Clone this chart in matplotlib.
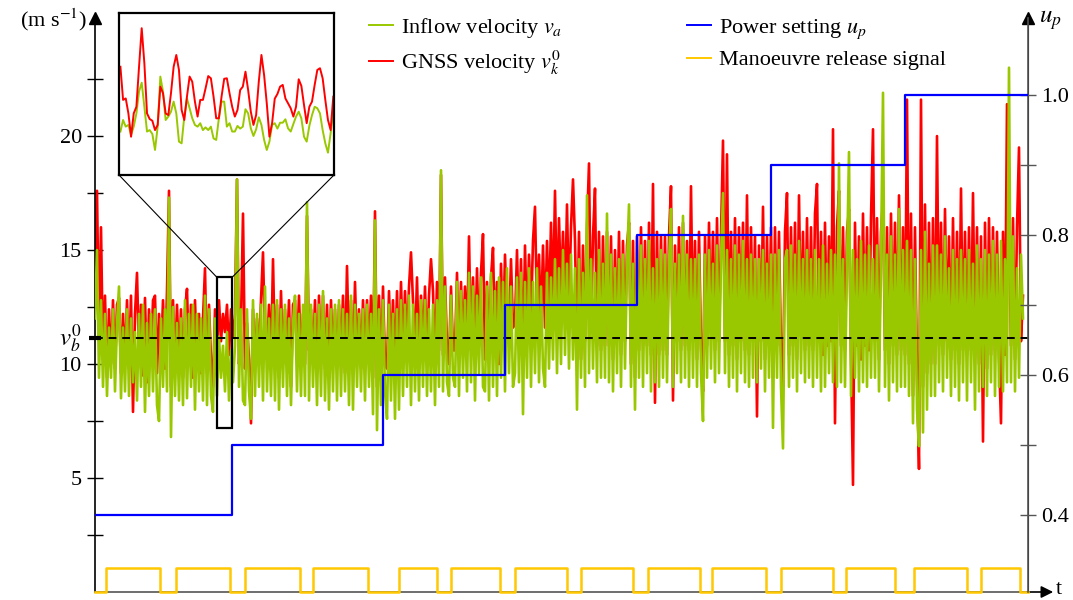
import numpy as np
import matplotlib
matplotlib.use('Agg')
import matplotlib.pyplot as plt
from matplotlib.patches import Rectangle, ConnectionPatch
from matplotlib.lines import Line2D
import matplotlib.transforms as mtransforms

# ---------------- data ----------------
# time samples (s), every 2 s
t = np.arange(0, 929, 2)

inflow_velocity = [
    12.0, 15.0, 9.4, 12.8, 9.0, 12.2, 8.6, 11.6, 9.4, 12.4, 8.8, 11.8, 13.4, 8.5, 11.6,
    8.8, 12.4, 8.6, 12.0, 9.2, 11.4, 8.4, 12.2, 9.0, 12.6, 7.9, 11.8, 8.6, 12.2, 8.8,
    12.4, 8.2, 7.5, 12.0, 9.0, 12.4, 8.8, 17.3, 6.8, 12.5, 8.6, 11.8, 8.4, 12.0, 8.2,
    12.8, 8.5, 12.2, 9.0, 12.6, 8.0, 12.2, 8.8, 12.0, 8.4, 13.0, 8.2, 12.4, 8.6, 7.9,
    12.0, 8.6, 11.2, 9.4, 10.8, 8.8, 11.4, 8.4, 10.6, 9.2, 10.8, 18.1, 9.0, 12.4, 8.4,
    8.2, 12.4, 8.8, 7.6, 12.8, 8.6, 12.2, 9.0, 12.6, 8.4, 13.4, 8.8, 12.0, 8.6, 12.6,
    8.4, 12.8, 8.0, 12.4, 9.0, 12.6, 8.6, 12.0, 8.2, 11.8, 13.0, 8.8, 12.2, 8.6, 12.6,
    8.6, 17.1, 8.4, 12.6, 9.0, 12.2, 8.2, 12.6, 8.6, 13.2, 8.4, 12.0, 8.0, 12.4, 8.8,
    12.6, 8.4, 12.8, 8.6, 12.4, 8.8, 12.2, 8.2, 13.0, 8.0, 12.6, 9.0, 12.2, 8.8, 12.4,
    8.4, 12.6, 9.0, 12.2, 7.8, 16.3, 7.1, 12.4, 8.2, 12.8, 8.8, 7.6, 12.6, 8.4, 12.2,
    7.6, 12.4, 8.0, 12.8, 8.6, 12.6, 9.0, 13.0, 8.2, 12.6, 8.8, 12.2, 8.4, 12.8, 9.0,
    12.8, 8.6, 12.4, 8.8, 12.6, 8.2, 12.8, 9.0, 18.5, 8.8, 13.4, 9.2, 8.6, 13.0, 9.4,
    9.0, 13.6, 8.6, 13.2, 9.4, 12.8, 8.8, 14.0, 9.2, 13.4, 8.4, 13.0, 9.6, 13.8, 9.0,
    8.8, 13.4, 8.4, 14.0, 9.0, 13.2, 8.6, 13.8, 9.4, 13.6, 8.8, 14.2, 9.6, 13.4, 9.0,
    9.6, 13.8, 9.2, 14.0, 7.8, 13.6, 9.4, 14.2, 9.0, 13.6, 9.6, 14.2, 9.2, 13.4, 9.8,
    9.0, 14.0, 9.8, 13.8, 10.2, 14.6, 9.6, 14.2, 10.0, 15.0, 10.4, 14.4, 9.8, 14.8, 10.2,
    14.2, 8.0, 14.6, 9.4, 14.0, 9.0, 17.4, 9.6, 14.6, 9.8, 14.0, 9.2, 15.0, 9.4, 14.4,
    9.4, 16.6, 9.2, 14.8, 8.8, 14.2, 9.6, 14.6, 9.0, 14.8, 9.8, 14.4, 17.0, 9.0, 14.4,
    8.0, 14.8, 9.4, 15.2, 9.0, 14.6, 9.6, 15.4, 8.8, 14.2, 9.2, 14.6, 9.0, 15.0, 9.4,
    14.8, 9.2, 14.4, 16.8, 9.0, 14.4, 9.6, 14.8, 9.2, 16.5, 9.4, 14.8, 9.0, 14.6, 9.4,
    14.6, 9.0, 14.8, 9.6, 7.5, 14.8, 9.4, 15.0, 9.8, 14.4, 9.2, 15.2, 9.6, 14.6, 17.5,
    9.6, 15.0, 9.0, 14.6, 9.4, 15.2, 8.8, 14.8, 9.6, 15.4, 9.2, 14.6, 9.0, 14.8, 9.4,
    14.6, 9.2, 14.6, 9.8, 15.0, 8.8, 14.4, 9.4, 14.8, 7.2, 14.8, 9.4, 15.0, 9.0, 6.3,
    14.6, 15.0, 9.0, 15.2, 9.4, 14.8, 8.8, 15.4, 9.6, 14.6, 9.2, 15.0, 9.4, 14.6, 9.0,
    15.0, 9.4, 14.6, 8.8, 15.2, 9.0, 14.4, 9.6, 15.0, 9.2, 14.8, 9.0, 18.8, 9.2, 14.6,
    9.0, 14.4, 19.3, 8.6, 15.0, 9.4, 14.6, 8.8, 15.4, 9.2, 14.8, 9.0, 15.2, 9.4, 14.6,
    9.4, 15.2, 8.8, 14.6, 21.9, 9.0, 14.8, 8.4, 15.6, 9.2, 14.8, 8.8, 16.8, 9.0, 15.0,
    9.0, 15.4, 8.6, 15.0, 7.4, 14.6, 8.0, 6.4, 15.0, 7.0, 15.8, 8.0, 14.4, 8.6, 15.2,
    8.6, 15.2, 9.2, 14.8, 8.8, 15.6, 9.4, 14.2, 8.6, 15.0, 9.0, 14.6, 8.4, 15.0, 9.2,
    14.6, 8.4, 15.0, 9.2, 14.4, 8.0, 15.2, 8.8, 14.6, 9.0, 15.0, 8.6, 14.8, 9.2, 15.4,
    8.6, 14.8, 9.0, 15.4, 8.8, 14.6, 9.2, 23.0, 9.2, 15.6, 8.8, 14.2, 9.4, 14.8, 12.0,
]

gnss_velocity = [
    14.0, 17.6, 11.0, 16.0, 10.2, 13.0, 9.4, 12.4, 10.0, 12.8, 9.8, 12.6, 12.9, 9.6, 12.2,
    10.0, 12.8, 9.8, 13.0, 7.9, 12.2, 14.0, 10.4, 12.6, 9.5, 12.9, 9.2, 12.4, 10.2, 12.8,
    13.0, 9.6, 12.2, 10.2, 12.8, 9.8, 13.2, 17.6, 9.0, 12.8, 9.8, 12.6, 10.0, 12.4, 9.4,
    12.4, 13.3, 10.0, 12.6, 9.4, 12.8, 10.0, 12.2, 9.6, 12.0, 14.2, 9.6, 12.6, 10.2, 9.0,
    12.4, 10.6, 12.8, 11.0, 12.2, 11.4, 12.6, 10.4, 12.4, 11.2, 12.2, 18.1, 10.0, 11.8, 16.6,
    9.8, 11.8, 10.2, 7.4, 12.4, 10.2, 12.0, 10.4, 12.8, 14.9, 11.0, 10.4, 12.6, 10.0, 14.6,
    10.2, 12.6, 9.4, 13.2, 10.0, 12.4, 10.4, 12.8, 9.0, 12.6, 12.8, 10.4, 13.0, 10.0, 12.2,
    10.0, 16.5, 10.6, 12.4, 10.2, 12.8, 9.6, 13.0, 10.0, 13.0, 9.8, 12.6, 9.4, 12.8, 10.2,
    12.4, 9.8, 12.6, 10.4, 13.0, 9.6, 14.3, 10.4, 12.8, 9.6, 13.6, 10.2, 12.4, 9.8, 12.8,
    10.2, 12.8, 10.4, 13.0, 9.4, 16.7, 9.0, 13.0, 9.6, 13.4, 10.0, 9.8, 13.2, 10.4, 12.8,
    9.8, 13.2, 10.0, 13.6, 10.4, 13.2, 10.8, 13.4, 14.9, 12.8, 10.6, 13.8, 10.2, 13.0, 10.6,
    13.4, 10.4, 13.0, 14.6, 13.2, 10.0, 13.6, 10.6, 18.3, 10.4, 13.8, 10.8, 10.0, 13.4, 10.6,
    10.6, 14.0, 10.2, 13.6, 10.8, 13.4, 11.0, 15.6, 10.6, 13.8, 10.4, 14.2, 10.8, 14.0, 15.7,
    10.2, 13.6, 10.6, 13.8, 15.1, 11.0, 13.6, 10.0, 14.4, 11.0, 14.8, 12.0, 11.4, 14.6, 11.6,
    11.8, 15.0, 11.2, 14.6, 10.0, 15.2, 11.4, 14.8, 12.0, 15.4, 16.9, 12.2, 14.8, 11.6, 15.2,
    11.6, 15.4, 12.2, 16.2, 12.6, 17.6, 12.4, 16.4, 13.0, 15.8, 12.6, 17.0, 12.4, 16.0, 18.1,
    15.4, 10.6, 15.8, 10.2, 15.2, 11.0, 16.0, 18.8, 11.4, 15.6, 17.7, 10.8, 15.8, 10.6, 15.6,
    10.8, 15.8, 10.8, 15.6, 10.2, 15.0, 11.2, 15.8, 10.4, 15.4, 11.0, 15.2, 16.2, 10.0, 15.4,
    9.4, 15.6, 10.6, 16.0, 11.0, 15.4, 10.8, 16.2, 10.4, 17.9, 8.3, 15.8, 10.4, 15.6, 10.6,
    15.6, 10.4, 15.6, 17.8, 8.4, 15.2, 11.0, 16.0, 10.6, 16.2, 10.8, 15.4, 10.6, 17.8, 11.0,
    15.4, 10.2, 15.8, 10.8, 8.8, 15.6, 10.8, 16.2, 11.4, 15.8, 10.6, 16.4, 11.0, 15.6, 19.8,
    11.0, 19.2, 10.4, 15.8, 10.8, 16.4, 10.2, 16.0, 11.0, 16.2, 10.6, 17.4, 10.4, 16.0, 11.0,
    15.6, 7.7, 15.2, 11.0, 16.9, 10.2, 15.6, 10.8, 16.0, 9.4, 16.0, 10.8, 15.8, 10.6, 9.0,
    15.8, 17.5, 10.4, 16.0, 10.8, 16.2, 10.2, 17.4, 11.2, 15.8, 10.6, 16.4, 10.8, 16.0, 10.6,
    16.6, 17.9, 11.0, 15.8, 10.4, 16.2, 10.8, 15.6, 11.0, 20.3, 7.4, 16.0, 17.6, 10.8, 16.0,
    10.6, 15.8, 16.8, 10.4, 4.7, 16.2, 10.8, 15.6, 10.2, 16.6, 10.8, 16.0, 10.6, 16.4, 20.3,
    11.0, 16.4, 10.2, 15.8, 17.2, 10.6, 16.0, 10.0, 16.6, 10.8, 16.2, 10.4, 17.4, 10.6, 16.0,
    10.4, 21.6, 10.0, 16.6, 8.6, 16.0, 9.6, 5.4, 21.6, 9.0, 17.0, 9.6, 16.2, 10.0, 16.4,
    10.0, 20.0, 10.8, 16.2, 10.4, 16.8, 11.0, 15.6, 10.2, 16.4, 10.6, 15.8, 10.0, 17.7, 10.6,
    15.8, 10.4, 16.0, 10.6, 17.5, 10.4, 16.0, 10.0, 15.6, 6.6, 16.2, 9.8, 16.4, 10.4, 16.0,
    10.6, 15.8, 10.4, 7.4, 15.8, 10.4, 21.4, 16.0, 10.8, 16.4, 10.2, 16.0, 19.5, 11.0, 13.0,
]

# power setting steps (start times, levels), end time of record
power_t = [0, 137, 288, 410, 542, 676, 810, 933]
power_levels = [0.4, 0.5, 0.6, 0.7, 0.8, 0.9, 1.0]

# manoeuvre release signal: on / off times
release_on = [11, 81, 150, 218, 304, 356, 420, 486, 553, 617, 686, 751, 819, 886]
release_off = [65, 135, 205, 273, 342, 405, 472, 538, 605, 671, 738, 800, 872, 925]
release_level = 1.05

v_b0 = 11.14

# zoomed window
zoom_t = (122, 137)
zoom_v = (7.2, 13.8)
zoom_gnss = [
    11.61, 10.26, 10.32, 9.71, 8.76, 9.71, 9.98, 11.61, 13.18, 11.75,
    9.71, 9.48, 9.41, 9.03, 9.24, 10.80, 10.53, 9.71, 9.64, 10.53,
    11.61, 12.09, 11.48, 9.85, 9.44, 10.39, 11.21, 11.00, 10.19, 9.58,
    10.26, 10.26, 10.73, 11.23, 11.14, 10.39, 9.51, 9.51, 10.39, 11.12,
    11.14, 10.53, 9.98, 9.58, 9.85, 10.66, 10.80, 11.41, 10.66, 9.78,
    9.24, 9.64, 11.00, 12.09, 11.27, 10.12, 8.76, 9.31, 10.31, 10.50,
    10.80, 10.87, 10.32, 10.12, 9.92, 9.58, 9.98, 11.10, 10.83, 10.05,
    9.31, 9.98, 10.19, 10.87, 11.48, 11.55, 11.14, 10.26, 9.44, 9.03,
    10.39,
]
zoom_inflow = [
    8.97, 9.44, 9.17, 9.24, 8.83, 9.17, 9.71, 10.60, 10.96, 9.98,
    8.97, 9.03, 8.87, 8.22, 9.17, 11.21, 10.60, 9.44, 9.58, 9.78,
    10.19, 9.71, 8.56, 8.49, 9.58, 10.32, 9.92, 9.51, 9.24, 9.17,
    9.31, 9.03, 9.14, 9.03, 9.17, 8.69, 8.63, 9.51, 10.19, 10.19,
    9.17, 9.31, 8.97, 8.97, 9.20, 9.09, 9.17, 9.88, 9.71, 9.10,
    8.79, 9.06, 9.55, 9.24, 8.63, 8.22, 8.56, 9.24, 9.31, 9.09,
    9.33, 9.33, 9.47, 9.10, 8.97, 9.28, 9.58, 9.78, 9.51, 8.76,
    8.56, 9.20, 9.64, 9.98, 9.92, 9.71, 9.03, 8.49, 8.11, 8.90,
    9.78,
]

# ---------------- style ----------------
plt.rcParams['font.family'] = ['Liberation Serif', 'DejaVu Serif']
plt.rcParams['mathtext.fontset'] = 'stix'
plt.rcParams['font.size'] = 16

C_GREEN = '#99c800'
C_RED = '#ff0000'
C_BLUE = '#0000ff'
C_YELLOW = '#ffc800'

W, H = 1073, 600
fig = plt.figure(figsize=(W / 100, H / 100), dpi=100)
ax = fig.add_axes([95 / W, 8 / H, (1028 - 95) / W, (592 - 18) / H])
ax.set_xlim(0, 933)
ax.set_ylim(0, 25.18)
ax2 = ax.twinx()
ax2.set_ylim(0.29, 1.11)

ax.plot(t, gnss_velocity, color=C_RED, lw=1.9, zorder=2)
ax.plot(t, inflow_velocity, color=C_GREEN, lw=1.9, zorder=3)
ax.axhline(v_b0, color='k', lw=1.4, ls=(0, (4, 3)), zorder=4)

# manoeuvre release step signal
st, sv = [0], [0]
for a, b in zip(release_on, release_off):
    st += [a, a, b, b]
    sv += [0, release_level, release_level, 0]
st.append(power_t[-1]); sv.append(0)
ax.plot(st, sv, color=C_YELLOW, lw=1.8, zorder=5, clip_on=False)

ax2.step(power_t, power_levels + [power_levels[-1]], where='post', color=C_BLUE, lw=1.6, zorder=6)

# zoom rectangle
ax.add_patch(Rectangle((zoom_t[0], zoom_v[0]), zoom_t[1] - zoom_t[0], zoom_v[1] - zoom_v[0],
                       fill=False, ec='k', lw=1.6, zorder=7))

# axes styling
for a in (ax, ax2):
    a.spines['top'].set_visible(False)
ax.spines['left'].set_linewidth(1.2)
ax.spines['bottom'].set_color('#555555')
ax.spines['bottom'].set_linewidth(1.2)
ax2.spines['right'].set_color('#555555')
ax2.spines['right'].set_linewidth(1.2)
ax2.spines['left'].set_visible(False)
ax2.spines['bottom'].set_visible(False)
ax.set_xticks([])

ax.set_yticks([5, 10, 15, 20])
ax.set_yticks([2.5, 7.5, 12.5, 17.5, 22.5], minor=True)
ax.tick_params(axis='y', which='both', direction='inout', length=11, width=1.0, pad=4, labelsize=16)
ax2.set_yticks([0.4, 0.6, 0.8, 1.0])
ax2.set_yticklabels(['0.4', '0.6', '0.8', '1.0'])
ax2.set_yticks([0.5, 0.7, 0.9], minor=True)
ax2.tick_params(axis='y', which='both', direction='inout', length=11, width=1.0, pad=4, labelsize=16,
                color='#555555')

# arrows and axis labels
ax.plot([0], [1], marker='^', color='k', ms=9, transform=ax.transAxes, clip_on=False, zorder=10)
ax.plot([1], [1], marker='^', color='k', ms=9, transform=ax.transAxes, clip_on=False, zorder=10)
ax.annotate('', xy=(1.027, 0), xytext=(0.999, 0), xycoords='axes fraction',
            arrowprops=dict(arrowstyle='-|>', color='k', lw=1.2, mutation_scale=18,
                            shrinkA=0, shrinkB=0))
ax.text(1.030, 0.004, 't', transform=ax.transAxes, ha='left', va='center', fontsize=16)
ax.text(-0.008, 0.997, r'(m s$^{-1}$)', transform=ax.transAxes, ha='right', va='center', fontsize=16)
ax.text(1.012, 0.997, r'$u_p$', transform=ax.transAxes, ha='left', va='center', fontsize=18)

trans = mtransforms.blended_transform_factory(ax.transAxes, ax.transData)
ax.text(-0.014, v_b0, r'$v_b^0$', transform=trans, ha='right', va='center', fontsize=18)
ax.plot([0], [v_b0], marker='_', ms=9, mew=3, color='k', transform=trans, clip_on=False, zorder=10)

# inset
axins = fig.add_axes([119 / W, 1 - 175 / H, 215 / W, 162 / H])
zt = np.linspace(zoom_t[0], zoom_t[1], len(zoom_gnss))
axins.plot(zt, zoom_inflow, color=C_GREEN, lw=1.4)
axins.plot(zt, zoom_gnss, color=C_RED, lw=1.4)
axins.set_xlim(zoom_t[0] - 0.1, zoom_t[1] + 0.05)
axins.set_ylim(*zoom_v)
axins.set_xticks([]); axins.set_yticks([])
for s in axins.spines.values():
    s.set_linewidth(1.6)
for xa, xb in ((zoom_t[0], 0), (zoom_t[1], 1)):
    cp = ConnectionPatch(xyA=(xa, zoom_v[1]), coordsA=ax.transData, xyB=(xb, 0), coordsB=axins.transAxes,
                         color='k', lw=0.8)
    fig.add_artist(cp)

# legend
handles = [Line2D([], [], color=C_GREEN, lw=1.4), Line2D([], [], color=C_RED, lw=1.4),
           Line2D([], [], color=C_BLUE, lw=1.4), Line2D([], [], color=C_YELLOW, lw=1.4)]
labels = [r'Inflow velocity $v_a$', r'GNSS velocity $v_k^0$', r'Power setting $u_p$',
          'Manoeuvre release signal']
fig.legend(handles, labels, ncol=2, loc='upper left', bbox_to_anchor=(369 / W, 1 - 16 / H),
           frameon=False, borderpad=0, borderaxespad=0, handlelength=1.1, handletextpad=0.35,
           labelspacing=0.4, columnspacing=5.6, fontsize=16)

fig.savefig('out.png', dpi=100)
